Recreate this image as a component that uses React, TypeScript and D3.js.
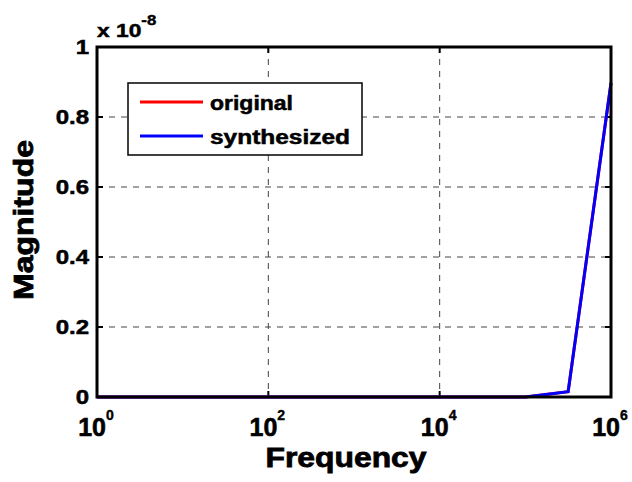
import React, { useEffect, useRef } from 'react';
import * as d3 from 'd3';

// frequency samples (Hz), log spaced
const freqs = [1, 3.16, 10, 31.6, 100, 316, 1000, 3160, 10000, 31600, 100000, 316000, 1000000];
const original = [0, 0, 0, 0, 0, 0, 0, 0, 0, 0, 0, 0.015, 0.897];
const synthesized = [0, 0, 0, 0, 0, 0, 0, 0, 0, 0, 0, 0.015, 0.897];
const yTicks = [0, 0.2, 0.4, 0.6, 0.8, 1];
const xTicks = [1, 100, 10000, 1000000];

const App = () => {
  const ref = useRef<SVGSVGElement>(null);

  useEffect(() => {
    const width = 632;
    const height = 482;
    const margin = { top: 47, right: 21, bottom: 85, left: 97 };
    const w = width - margin.left - margin.right;
    const h = height - margin.top - margin.bottom;
    const font = 'Arial, Liberation Sans, sans-serif';

    const root = d3.select(ref.current);
    root.selectAll('*').remove();
    const svg = root.append('g').attr('transform', `translate(${margin.left},${margin.top})`);

    const x = d3.scaleLog().domain([1, 1e6]).range([0, w]);
    const y = d3.scaleLinear().domain([0, 1]).range([h, 0]);

    // heavy bold text, MATLAB-like
    const bold = (sel: any, size: number, sw = 0.6) =>
      sel.style('font-family', font).style('font-weight', 'bold').style('font-size', `${size}px`)
        .attr('fill', '#000').attr('stroke', '#000').attr('stroke-width', sw);

    // grid
    yTicks.slice(1, -1).forEach(t => {
      svg.append('line').attr('x1', 0).attr('x2', w).attr('y1', y(t)).attr('y2', y(t))
        .attr('stroke', '#444').attr('stroke-width', 1).attr('stroke-dasharray', '6,6');
    });
    xTicks.slice(1, -1).forEach(t => {
      svg.append('line').attr('x1', x(t)).attr('x2', x(t)).attr('y1', 0).attr('y2', h)
        .attr('stroke', '#444').attr('stroke-width', 1).attr('stroke-dasharray', '6,6');
    });

    // y ticks
    yTicks.forEach(t => {
      svg.append('line').attr('x1', 0).attr('x2', 6).attr('y1', y(t)).attr('y2', y(t)).attr('stroke', '#000').attr('stroke-width', 2);
      svg.append('line').attr('x1', w - 6).attr('x2', w).attr('y1', y(t)).attr('y2', y(t)).attr('stroke', '#000').attr('stroke-width', 2);
      const g = svg.append('g').attr('transform', `translate(-8,${y(t) + 7}) scale(1.2,1)`);
      bold(g.append('text').attr('text-anchor', 'end'), 20, 0.5)
        .text(t === 0 ? '0' : t === 1 ? '1' : d3.format('.1f')(t));
    });

    // x ticks
    xTicks.forEach(t => {
      svg.append('line').attr('x1', x(t)).attr('x2', x(t)).attr('y1', h).attr('y2', h - 6).attr('stroke', '#000').attr('stroke-width', 2);
      svg.append('line').attr('x1', x(t)).attr('x2', x(t)).attr('y1', 0).attr('y2', 6).attr('stroke', '#000').attr('stroke-width', 2);
      const lbl = bold(svg.append('text').attr('x', x(t) - 1).attr('y', h + 39).attr('text-anchor', 'middle'), 25);
      lbl.append('tspan').text('10');
      lbl.append('tspan').attr('dy', -16).style('font-size', '14px').attr('stroke-width', 0.4).text(String(Math.round(Math.log10(t))));
    });

    // lines
    const line = d3.line<number>().x((_, i) => x(freqs[i])).y(d => y(d));
    svg.append('path').datum(original).attr('d', line).attr('fill', 'none').attr('stroke', '#ff0000').attr('stroke-width', 3);
    svg.append('path').datum(synthesized).attr('d', line).attr('fill', 'none').attr('stroke', '#0000ff').attr('stroke-width', 3);

    // frame
    svg.append('rect').attr('width', w).attr('height', h).attr('fill', 'none').attr('stroke', '#000').attr('stroke-width', 3);

    // exponent
    const exg = svg.append('g').attr('transform', 'translate(0,-10) scale(1.2,1)');
    const ex = bold(exg.append('text'), 19, 0.5);
    ex.append('tspan').text('x 10');
    ex.append('tspan').attr('dy', -12).style('font-size', '14px').attr('stroke-width', 0.4).text('-8');

    // legend
    const lg = svg.append('g').attr('transform', `translate(${128 - margin.left},${83 - margin.top})`);
    lg.append('rect').attr('width', 234).attr('height', 72).attr('fill', '#fff').attr('stroke', '#000').attr('stroke-width', 1.5);
    const names = ['original', 'synthesized'];
    const colors = ['#ff0000', '#0000ff'];
    const lens = [83, 140];
    names.forEach((name, i) => {
      const yy = 19 + i * 34;
      lg.append('line').attr('x1', 12).attr('x2', 75).attr('y1', yy).attr('y2', yy).attr('stroke', colors[i]).attr('stroke-width', 3);
      bold(lg.append('text').attr('x', 82).attr('y', yy + 8), 20, 0.5)
        .attr('textLength', lens[i]).attr('lengthAdjust', 'spacingAndGlyphs').text(name);
    });

    // axis titles
    bold(root.append('text').attr('x', 346).attr('y', 467).attr('text-anchor', 'middle'), 28, 0.8)
      .attr('textLength', 161).attr('lengthAdjust', 'spacingAndGlyphs').text('Frequency');
    bold(root.append('text').attr('transform', `translate(33,220) rotate(-90)`).attr('text-anchor', 'middle'), 28, 0.8)
      .attr('textLength', 160).attr('lengthAdjust', 'spacingAndGlyphs').text('Magnitude');
  }, []);

  return <svg ref={ref} width={632} height={482} style={{ position: 'absolute', left: 0, top: 0, background: '#fff' }} />;
};

export default App;
